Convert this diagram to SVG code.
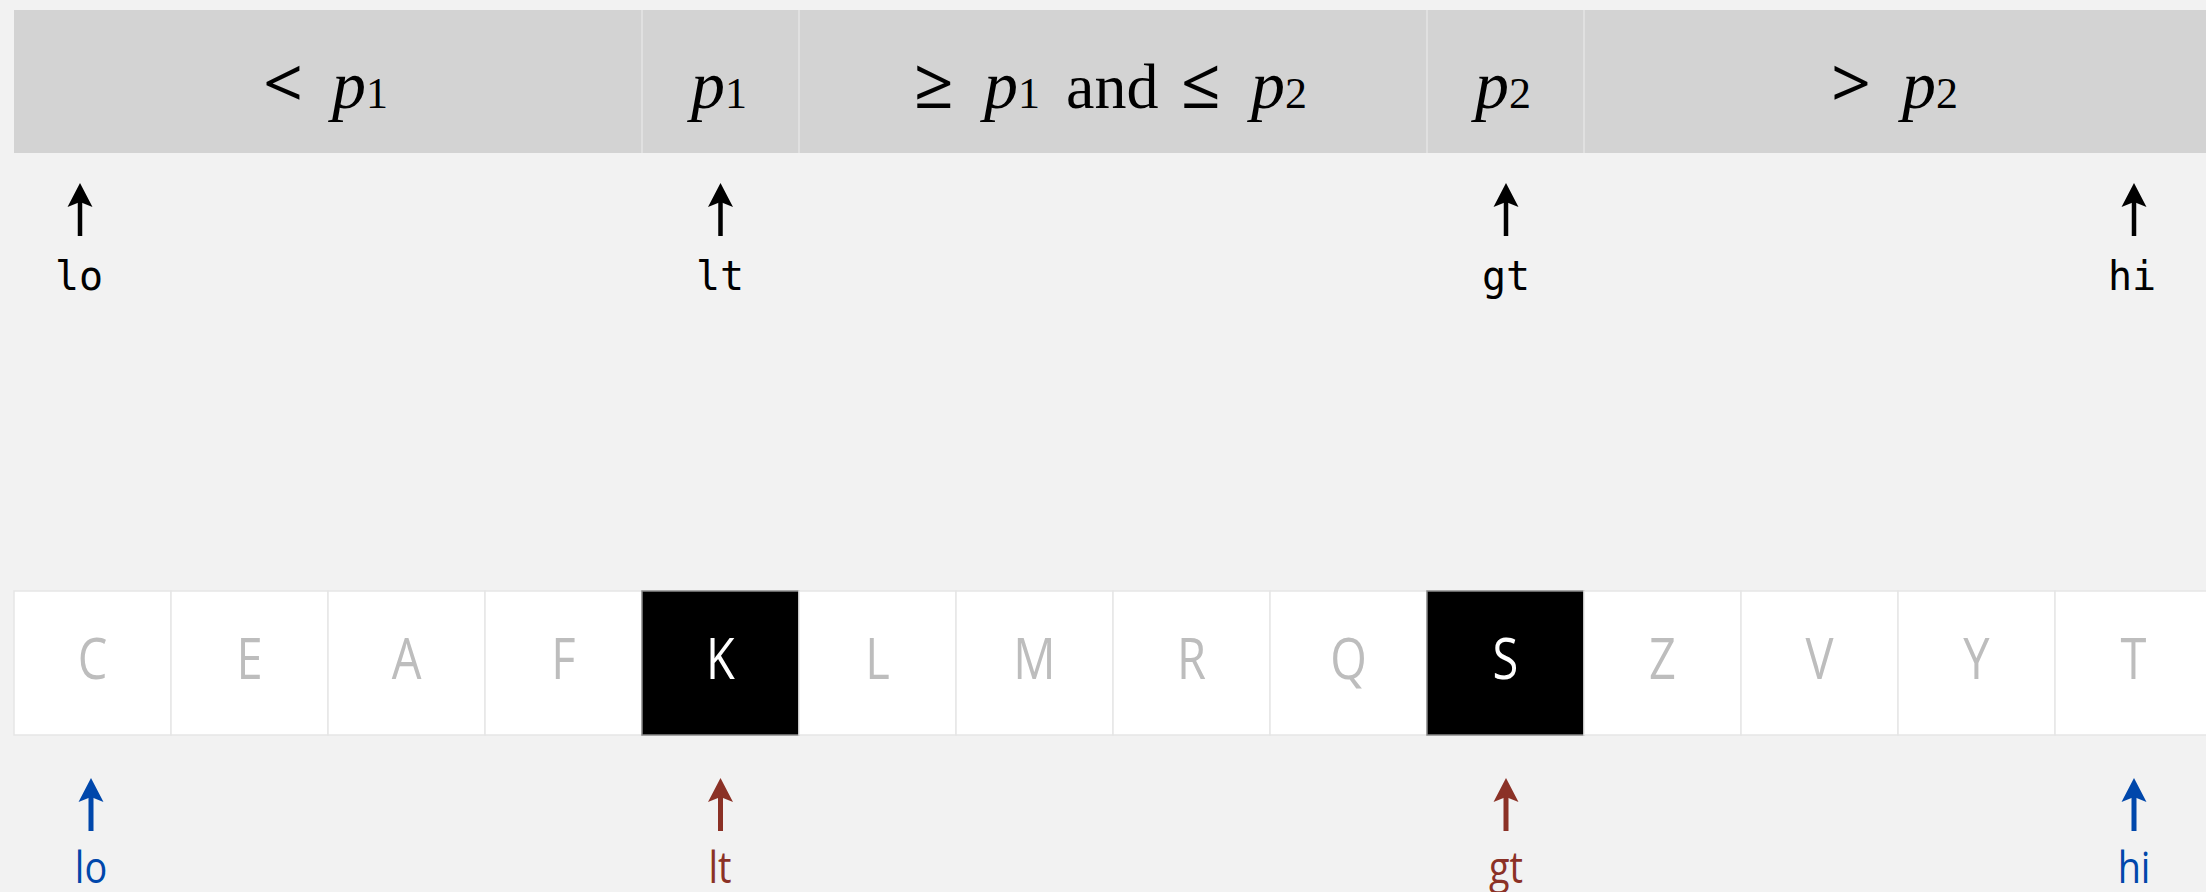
<svg xmlns="http://www.w3.org/2000/svg" width="2206" height="892" viewBox="0 0 2206 892">
<style>
.sec{fill:#d3d3d3}
.sdiv{stroke:#e4e4e4;stroke-width:1.5}
.it{font-family:"Liberation Serif","Times New Roman",serif;font-size:68px;font-style:italic;fill:#000}
.rm{font-family:"Liberation Serif","Times New Roman",serif;font-size:64px;fill:#000}
.sub{font-family:"Liberation Serif","Times New Roman",serif;font-size:44px;fill:#000}
.sym{font-family:"Open Sans","Liberation Sans",sans-serif;font-size:70px;fill:#000}
.cell{fill:#ffffff;stroke:#e6e6e6;stroke-width:1.5}
.cellk{fill:#000000;stroke:#8a8a8a;stroke-width:1.5}
.let{font-family:"Open Sans","Liberation Sans",sans-serif;font-size:56px;fill:#bdbdbd;text-anchor:middle}
.letk{fill:#ffffff}
.mono{font-family:"DejaVu Sans Mono","Liberation Mono",monospace;font-size:40px;fill:#000;text-anchor:middle}
.lab{font-family:"Open Sans","Liberation Sans",sans-serif;font-size:44px;text-anchor:middle}
.blue{fill:#0047ab}
.red{fill:#8b3126}
.ab{stroke:#000;stroke-width:4.5;fill:none}
.ablue{stroke:#0047ab;stroke-width:5;fill:none}
.ared{stroke:#8b3126;stroke-width:5;fill:none}
</style>
<defs>
<marker id="hk" markerUnits="userSpaceOnUse" markerWidth="26" markerHeight="28" refX="12" refY="13" orient="auto" viewBox="0 0 26 26">
<path d="M24,13 L0,0.5 L5,13 L0,25.5 Z" fill="#000"/>
</marker>
<marker id="hb" markerUnits="userSpaceOnUse" markerWidth="26" markerHeight="28" refX="12" refY="13" orient="auto" viewBox="0 0 26 26">
<path d="M24,13 L0,0.5 L5,13 L0,25.5 Z" fill="#0047ab"/>
</marker>
<marker id="hr" markerUnits="userSpaceOnUse" markerWidth="26" markerHeight="28" refX="12" refY="13" orient="auto" viewBox="0 0 26 26">
<path d="M24,13 L0,0.5 L5,13 L0,25.5 Z" fill="#8b3126"/>
</marker>
</defs>
<rect x="0" y="0" width="2206" height="892" fill="#f2f2f2"/>

<g id="sec-less">
<rect class="sec" x="14" y="10" width="628" height="143"/>
<text y="108"><tspan class="sym" x="263">&lt;</tspan><tspan class="it" x="332">p</tspan><tspan class="sub" x="366">1</tspan></text>
</g>
<g id="sec-p1">
<rect class="sec" x="642" y="10" width="157" height="143"/>
<text y="108"><tspan class="it" x="691">p</tspan><tspan class="sub" x="725">1</tspan></text>
</g>
<g id="sec-mid">
<rect class="sec" x="799" y="10" width="628" height="143"/>
<text y="108"><tspan class="sym" x="914">≥</tspan><tspan class="it" x="984">p</tspan><tspan class="sub" x="1018">1</tspan><tspan class="rm" x="1066">and</tspan><tspan class="sym" x="1181">≤</tspan><tspan class="it" x="1251">p</tspan><tspan class="sub" x="1285">2</tspan></text>
</g>
<g id="sec-p2">
<rect class="sec" x="1427" y="10" width="157" height="143"/>
<text y="108"><tspan class="it" x="1475">p</tspan><tspan class="sub" x="1509">2</tspan></text>
</g>
<g id="sec-greater">
<rect class="sec" x="1584" y="10" width="622" height="143"/>
<text y="108"><tspan class="sym" x="1831">&gt;</tspan><tspan class="it" x="1902">p</tspan><tspan class="sub" x="1936">2</tspan></text>
</g>
<g id="sec-dividers">
<line class="sdiv" x1="642" y1="10" x2="642" y2="153"/>
<line class="sdiv" x1="799" y1="10" x2="799" y2="153"/>
<line class="sdiv" x1="1427" y1="10" x2="1427" y2="153"/>
<line class="sdiv" x1="1584" y1="10" x2="1584" y2="153"/>
</g>

<g id="ptr-top-lo"><text class="mono" x="79" y="290">lo</text></g>
<g id="ptr-top-lt"><text class="mono" x="720" y="290">lt</text></g>
<g id="ptr-top-gt"><text class="mono" x="1506" y="290">gt</text></g>
<g id="ptr-top-hi"><text class="mono" x="2132" y="290">hi</text></g>

<g id="cell-0"><rect class="cell" x="14" y="591" width="157" height="144"/><text class="let" transform="translate(92.5,679) scale(0.84,1)">C</text></g>
<g id="cell-1"><rect class="cell" x="171" y="591" width="157" height="144"/><text class="let" transform="translate(249.5,679) scale(0.84,1)">E</text></g>
<g id="cell-2"><rect class="cell" x="328" y="591" width="157" height="144"/><text class="let" transform="translate(406.5,679) scale(0.84,1)">A</text></g>
<g id="cell-3"><rect class="cell" x="485" y="591" width="157" height="144"/><text class="let" transform="translate(563.5,679) scale(0.84,1)">F</text></g>
<g id="cell-4"><rect class="cellk" x="642" y="591" width="157" height="144"/><text class="let letk" transform="translate(720.5,679) scale(0.84,1)">K</text></g>
<g id="cell-5"><rect class="cell" x="799" y="591" width="157" height="144"/><text class="let" transform="translate(877.5,679) scale(0.84,1)">L</text></g>
<g id="cell-6"><rect class="cell" x="956" y="591" width="157" height="144"/><text class="let" transform="translate(1034.5,679) scale(0.84,1)">M</text></g>
<g id="cell-7"><rect class="cell" x="1113" y="591" width="157" height="144"/><text class="let" transform="translate(1191.5,679) scale(0.84,1)">R</text></g>
<g id="cell-8"><rect class="cell" x="1270" y="591" width="157" height="144"/><text class="let" transform="translate(1348.5,679) scale(0.84,1)">Q</text></g>
<g id="cell-9"><rect class="cellk" x="1427" y="591" width="157" height="144"/><text class="let letk" transform="translate(1505.5,679) scale(0.84,1)">S</text></g>
<g id="cell-10"><rect class="cell" x="1584" y="591" width="157" height="144"/><text class="let" transform="translate(1662.5,679) scale(0.84,1)">Z</text></g>
<g id="cell-11"><rect class="cell" x="1741" y="591" width="157" height="144"/><text class="let" transform="translate(1819.5,679) scale(0.84,1)">V</text></g>
<g id="cell-12"><rect class="cell" x="1898" y="591" width="157" height="144"/><text class="let" transform="translate(1976.5,679) scale(0.84,1)">Y</text></g>
<g id="cell-13"><rect class="cell" x="2055" y="591" width="157" height="144"/><text class="let" transform="translate(2133.5,679) scale(0.84,1)">T</text></g>

<g id="ptr-bot-lo"><text class="lab blue" transform="translate(91,883) scale(0.86,1)">lo</text></g>
<g id="ptr-bot-lt"><text class="lab red" transform="translate(720,883) scale(0.86,1)">lt</text></g>
<g id="ptr-bot-gt"><text class="lab red" transform="translate(1506,883) scale(0.86,1)">gt</text></g>
<g id="ptr-bot-hi"><text class="lab blue" transform="translate(2134,883) scale(0.86,1)">hi</text></g>

<g id="connectors">
<line class="ab" x1="80" y1="236" x2="80" y2="195" marker-end="url(#hk)"/>
<line class="ab" x1="720.5" y1="236" x2="720.5" y2="195" marker-end="url(#hk)"/>
<line class="ab" x1="1506" y1="236" x2="1506" y2="195" marker-end="url(#hk)"/>
<line class="ab" x1="2134" y1="236" x2="2134" y2="195" marker-end="url(#hk)"/>
<line class="ablue" x1="91" y1="831" x2="91" y2="790" marker-end="url(#hb)"/>
<line class="ared" x1="720.5" y1="831" x2="720.5" y2="790" marker-end="url(#hr)"/>
<line class="ared" x1="1506" y1="831" x2="1506" y2="790" marker-end="url(#hr)"/>
<line class="ablue" x1="2134" y1="831" x2="2134" y2="790" marker-end="url(#hb)"/>
</g>
</svg>
